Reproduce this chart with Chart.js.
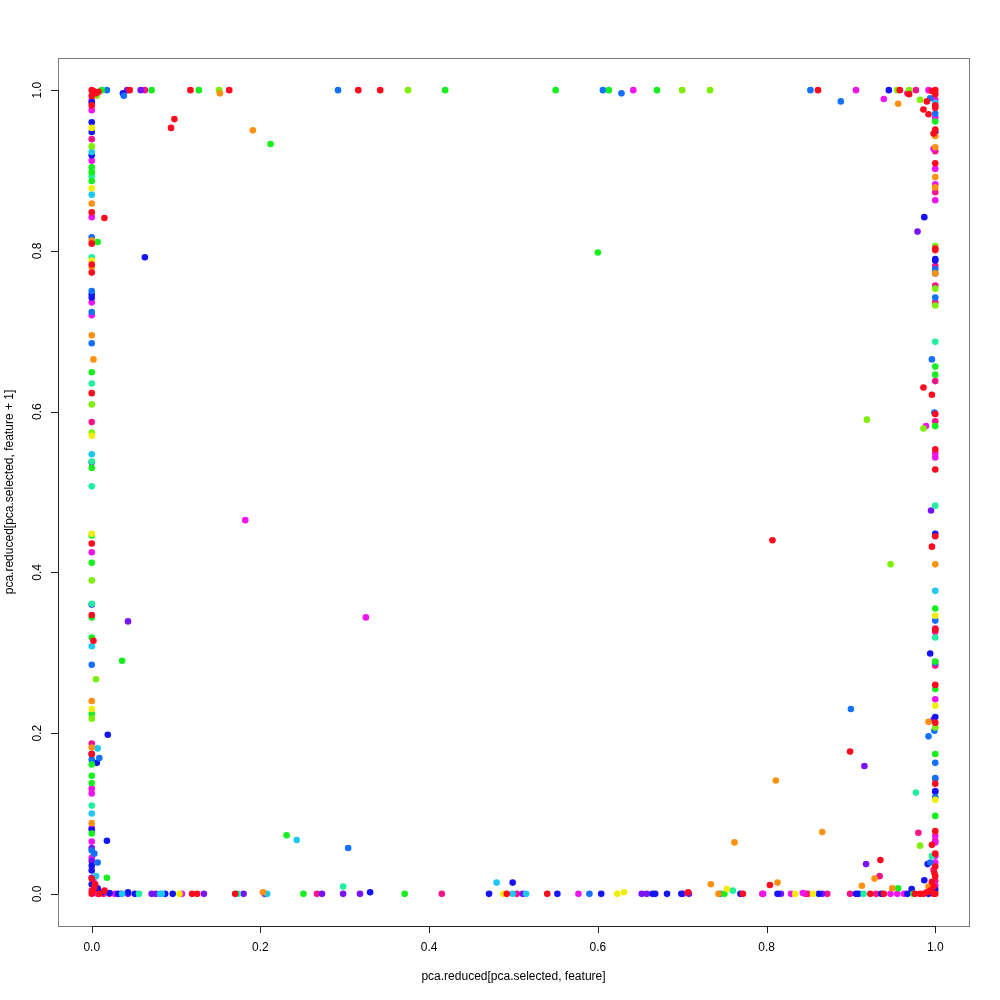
<!DOCTYPE html>
<html>
<head>
  <title>pca scatter</title>
  <script src="https://cdn.jsdelivr.net/npm/chart.js@4"></script>
  <style>
    body { margin: 0; background: #fff; }
  </style>
</head>
<body>
  <div style="position: relative; width:1000px; height:1000px;">
    <canvas id="scatter" width="1000" height="1000"></canvas>
  </div>
  <script>
    // [x, y] pairs, one list per colour group
    var red = [[0,1],[0.002,0.999],[0.005,0.996],[0,0.993],[0,0.981],[0,0.848],[0,0.809],[0,0.783],[0,0.773],
      [0,0.623],[0,0.436],[0,0.347],[0.002,0.315],[0,0.174],[0,0.019],[0,0],[0.015,0.841],
      [0.045,1],[0.117,1],[0.163,1],[0.316,1],[0.342,1],[0.098,0.964],[0.094,0.953],[0.861,1],
      [0.958,1],[0.969,0.995],[0.990,0.986],[0.986,0.976],[0.992,0.970],[1,1],[1,0.995],[1,0.981],[1,0.978],
      [0.998,0.946],[1,0.951],[1,0.909],[1,0.803],[1,0.801],[0.986,0.630],[0.996,0.621],[1,0.597],[1,0.553],
      [1,0.528],[1,0.445],[0.996,0.432],[1,0.329],[1,0.260],[1,0.213],[1,0.137],[0.996,0.061],[1,0.050],
      [0.999,0.026],[1,0.078],[0.998,0.009],[1,0.022],[1,0],[0.994,0.004],
      [0.807,0.440],[0.899,0.177],[0.935,0.042],[0.804,0.011],
      [0.119,0],[0.125,0],[0.170,0],[0.492,0],[0.540,0],[0.707,0.002],[0.772,0],[0.923,0],[0.939,0],
      [0.976,0],[0.982,0],[0.986,0],[0.998,0],[0.009,0],[0.015,0.004],[0.003,0.008],[0.001,0.003],
      [0.004,0.012],[0.990,0.002],[0.996,0.015],[1,0.034],[0.008,0.998],[0.996,0.999]];
    var rose = [[0,0.939],[0,0.587],[0,0.187],[0.021,0],[0.267,0],[0.415,0],[0.504,0],[0.701,0],[0.795,0],
      [0.846,0],[0.849,0],[0.872,0],[0.899,0],[0.930,0],[0.980,0.076],[0.934,0.022],[0.967,0.996],[0.977,1],
      [1,0.924],[1,0.873],[1,0.781],[1,0.757],[1,0.736],[1,0.638],[1,0.588],[1,0.330],[1,0.326],[1,0.284],
      [1,0.143],[1,0.066],[1,0.016],[0.063,1],[0.014,0],[0,0.004],[0.005,0.001],[0.998,0.030]];
    var magenta = [[0,0.988],[0,0.975],[0,0.912],[0,0.842],[0,0.736],[0,0.720],[0,0.425],[0,0.131],[0,0.125],
      [0,0.082],[0,0.065],[0,0.045],[0.007,0],[0.027,0],[0.107,0],[0.577,0],[0.796,0],[0.829,0],[0.843,0.001],
      [0.947,0],[0.955,0],[0.963,0],[0.642,1],[0.906,1],[0.939,0.989],[0.992,1],[1,0.988],[1,0.966],
      [0.998,0.927],[1,0.902],[1,0.883],[1,0.863],[1,0.548],[1,0.543],[0.989,0.582],[1,0.242],[1,0.072],
      [1,0.064],[1,0.047],[1,0.039],[0.182,0.465],[0.325,0.344],[0.035,0],[1,0.010],[0.002,0.016]];
    var violet = [[0,0.057],[0,0.041],[0,0.537],[0.043,0.339],[0.042,1],[0.058,1],[0.043,0],[0.071,0],
      [0.076,0],[0.133,0],[0.180,0],[0.205,0],[0.273,0],[0.298,0],[0.318,0],[0.511,0],[0.652,0],[0.658,0],
      [0.708,0],[0.817,0],[0.866,0],[0.979,0.824],[0.995,0.477],[0.998,0.217],[0.916,0.159],[0.918,0.037],
      [1,0.128],[0,0.020]];
    var blue = [[0,0.960],[0,0.948],[0,0.919],[0,0.746],[0,0.742],[0,0.360],[0.019,0.198],[0,0.174],
      [0.006,0.163],[0,0.080],[0.018,0.066],[0,0.035],[0,0.029],[0.007,0.007],[0,0.012],[0.012,0.002],
      [0.021,0.001],[0.043,0.002],[0.031,0],[0.051,0],[0.087,0],[0.096,0],[0.471,0],[0.499,0.014],
      [0.552,0],[0.604,0],[0.665,0],[0.668,0],[0.682,0],[0.699,0],[0.769,0],[0.813,0],[0.862,0],
      [0.906,0],[0.909,0],[0.936,0],[0.967,0],[0.992,0],[0.037,0.996],[0.945,1],[1,0.948],[1,0.788],
      [0.987,0.842],[1,0.790],[1,0.448],[0.994,0.299],[1,0.220],[1,0.127],[0.991,0.037],[0.987,0.017],
      [0.972,0.006],[0.063,0.792],[0.330,0.002],[1,0.005],[0,0.985]];
    var azure = [[0,0.817],[0,0.750],[0,0.724],[0,0.685],[0,0.285],[0.009,0.169],[0,0.167],[0,0.054],
      [0.007,0.039],[0.018,1],[0.038,0.993],[0.292,1],[0.606,1],[0.628,0.996],[0.852,1],[0.888,0.986],
      [0.994,0.990],[1,0.971],[1,0.777],[1,0.772],[1,0.742],[0.996,0.665],[0.999,0.599],[1,0.340],
      [1,0.288],[0.999,0.203],[0.992,0.196],[1,0.163],[1,0.144],[1,0.120],[0.994,0.039],[0.900,0.230],
      [0.304,0.057],[0.590,0],[0.745,0],[0.003,0.050]];
    var cyan = [[0,0.923],[0,0.870],[0,0.547],[0,0.308],[0.007,0.181],[0,0.100],[0.005,0.022],
      [0.243,0.067],[0.480,0.014],[0.036,0],[0.081,0],[0.083,0],[0.208,0],[0.499,0],[0.515,0],
      [1,0.984],[1,0.377]];
    var spring = [[0,0.893],[0,0.792],[0,0.635],[0,0.538],[0,0.507],[0,0.361],[0,0.110],[0.056,0],
      [0.173,0],[0.298,0.009],[0.760,0.004],[0.915,0],[1,0.687],[1,0.483],[0.977,0.126],[0.996,0.047],
      [1,0.319]];
    var green = [[0,0.904],[0,0.898],[0,0.887],[0,0.649],[0,0.530],[0,0.446],[0,0.412],[0,0.344],
      [0,0.319],[0,0.224],[0,0.161],[0,0.147],[0,0.138],[0,0.075],[0.018,0.020],[0.036,0.290],
      [0.007,0.811],[0.012,1],[0.071,1],[0.127,1],[0.419,1],[0.550,1],[0.613,1],[0.670,1],
      [0.212,0.933],[0.600,0.798],[0.231,0.073],[0.251,0],[0.371,0],[0.750,0],[0.956,0.007],[0.974,0],
      [1,0.961],[1,0.656],[1,0.646],[1,0.582],[1,0.355],[1,0.289],[1,0.255],[1,0.174],[1,0.097]];
    var lime = [[0.006,0.993],[0,0.930],[0,0.609],[0,0.574],[0,0.390],[0.005,0.267],[0,0.218],
      [0.375,1],[0.151,1],[0.700,1],[0.733,1],[0.955,1],[0.969,1],[0.982,0.988],[1,0.753],[1,0.732],
      [0.986,0.579],[0.947,0.410],[0.919,0.590],[1,0.806],[1,0.207],[0.982,0.060]];
    var yellow = [[0,0.953],[0,0.878],[0,0.788],[0,0.570],[0,0.448],[0,0.230],[0.104,0],[0.488,0],
      [0.623,0],[0.631,0.002],[0.753,0.006],[0.834,0],[0.855,0],[1,0.346],[1,0.117],[1,0.234]];
    var orange = [[0,0.859],[0,0.813],[0,0.780],[0,0.695],[0.002,0.665],[0,0.240],[0,0.182],[0,0.088],
      [0.203,0.002],[0.152,0.996],[0.191,0.950],[0.956,0.983],[1,0.943],[1,0.929],[1,0.892],[1,0.879],
      [1,0.772],[1,0.410],[0.992,0.214],[0.992,0.009],[0.949,0.007],[0.913,0.010],[0.928,0.019],
      [0.866,0.077],[0.811,0.141],[0.762,0.064],[0.734,0.012],[0.813,0.014],[0.743,0]];

    var groups = [red, orange, yellow, lime, green, spring, cyan, azure, blue, violet, magenta, rose];
    var colours = ["#FF0A1E", "#FF9010", "#F2EE00", "#7CF000", "#14F01E", "#1EF0A0",
                   "#1EC8F5", "#1470FF", "#1414F5", "#7814F5", "#F014F0", "#F5148C"];
    var tickValues = [0, 0.2, 0.4, 0.6, 0.8, 1.0];
    var tickLabels = ["0.0", "0.2", "0.4", "0.6", "0.8", "1.0"];
    var xTitle = "pca.reduced[pca.selected, feature]";
    var yTitle = "pca.reduced[pca.selected, feature + 1]";

    var datasets = groups.map(function(g, i) {
      return {
        data: g.map(function(p) { return { x: p[0], y: p[1] }; }),
        backgroundColor: colours[i],
        borderWidth: 0,
        pointRadius: 3.3,
        pointHoverRadius: 3.3
      };
    });

    // box, axes and labels drawn R-style
    var rAxes = {
      id: 'rAxes',
      afterDraw: function(chart) {
        var ctx = chart.ctx, a = chart.chartArea;
        var xs = chart.scales.x, ys = chart.scales.y;
        ctx.save();
        ctx.strokeStyle = "#7a7a7a";
        ctx.lineWidth = 1;
        ctx.strokeRect(a.left + 0.5, a.top + 0.5, a.right - a.left, a.bottom - a.top);
        ctx.strokeStyle = "#222";
        ctx.beginPath();
        var x0 = xs.getPixelForValue(0), x1 = xs.getPixelForValue(1);
        var y0 = ys.getPixelForValue(0), y1 = ys.getPixelForValue(1);
        ctx.moveTo(x0, a.bottom + 0.5); ctx.lineTo(x1, a.bottom + 0.5);
        ctx.moveTo(a.left + 0.5, y0); ctx.lineTo(a.left + 0.5, y1);
        tickValues.forEach(function(v) {
          var px = Math.round(xs.getPixelForValue(v)) + 0.5;
          ctx.moveTo(px, a.bottom); ctx.lineTo(px, a.bottom + 7);
          var py = Math.round(ys.getPixelForValue(v)) + 0.5;
          ctx.moveTo(a.left, py); ctx.lineTo(a.left - 7, py);
        });
        ctx.stroke();
        ctx.fillStyle = "#000";
        ctx.font = "12px 'Liberation Sans', Arial, sans-serif";
        ctx.textAlign = "center";
        ctx.textBaseline = "middle";
        tickValues.forEach(function(v, i) {
          ctx.fillText(tickLabels[i], xs.getPixelForValue(v), 948);
          ctx.save();
          ctx.translate(38, ys.getPixelForValue(v));
          ctx.rotate(-Math.PI / 2);
          ctx.fillText(tickLabels[i], 0, 0);
          ctx.restore();
        });
        ctx.fillText(xTitle, (a.left + a.right) / 2, 977);
        ctx.save();
        ctx.translate(10, (a.top + a.bottom) / 2);
        ctx.rotate(-Math.PI / 2);
        ctx.fillText(yTitle, 0, 0);
        ctx.restore();
        ctx.restore();
      }
    };

    new Chart(document.getElementById("scatter"), {
      type: 'scatter',
      data: { datasets: datasets },
      options: {
        responsive: false,
        animation: false,
        layout: { padding: { left: 58, top: 58, right: 31, bottom: 74 } },
        plugins: { legend: { display: false }, tooltip: { enabled: false } },
        scales: {
          x: { type: 'linear', min: -0.04, max: 1.04, display: false },
          y: { type: 'linear', min: -0.04, max: 1.04, display: false }
        }
      },
      plugins: [rAxes]
    });
  </script>
</body>
</html>
